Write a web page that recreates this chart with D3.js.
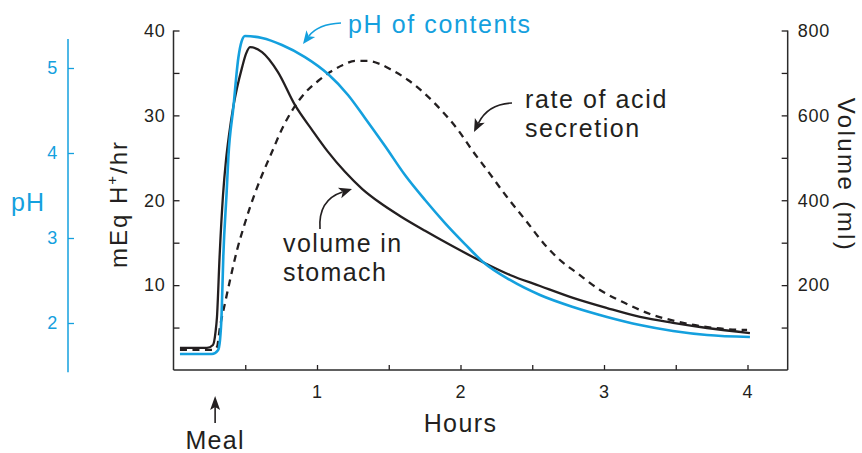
<!DOCTYPE html>
<html>
<head>
<meta charset="utf-8">
<script src="https://cdn.jsdelivr.net/npm/d3@7"></script>
<style>
  html, body { margin: 0; padding: 0; background: #fff; }
  svg { display: block; font-family: "Liberation Sans", Arial, Helvetica, sans-serif; }
</style>
</head>
<body>
<svg id="chart" width="862" height="453"></svg>
<script>
// Gastric response to a meal: hours after start of recording
const volumeHours = [0.045, 0.233, 0.275, 0.293, 0.303, 0.321, 0.345, 0.366, 0.387, 0.415, 0.443, 0.477, 0.505, 0.533, 0.617, 0.728, 0.847, 0.965, 1.077, 1.195, 1.314, 1.439, 1.578, 1.753, 1.927, 2.157, 2.345, 2.554, 2.784, 3.021, 3.251, 3.481, 3.718, 4.017];
// volume in stomach (ml)
const volumeMl = [52, 52, 59, 90, 125, 266, 412, 495, 554, 617, 665, 712, 745, 761, 749, 702, 624, 566, 514, 467, 427, 394, 363, 328, 295, 254, 224, 198, 170, 146, 125, 111, 99, 87];

const phHours = [0.045, 0.268, 0.310, 0.324, 0.3345, 0.347, 0.371, 0.382, 0.417, 0.452, 0.474, 0.498, 0.617, 0.756, 0.916, 1.077, 1.216, 1.334, 1.474, 1.613, 1.753, 1.892, 2.031, 2.157, 2.345, 2.554, 2.784, 3.021, 3.251, 3.481, 3.718, 4.017];
// pH of contents
const phValues = [1.635, 1.635, 1.68, 1.80, 2.07, 2.78, 3.56, 3.94, 4.53, 5.12, 5.31, 5.376, 5.353, 5.271, 5.129, 4.929, 4.682, 4.412, 4.082, 3.741, 3.447, 3.176, 2.929, 2.718, 2.506, 2.329, 2.188, 2.071, 1.976, 1.906, 1.859, 1.835];

const acidHours = [0.045, 0.275, 0.303, 0.324, 0.359, 0.394, 0.443, 0.498, 0.568, 0.617, 0.686, 0.756, 0.833, 0.916, 1.007, 1.091, 1.181, 1.265, 1.355, 1.439, 1.509, 1.634, 1.753, 1.871, 1.983, 2.080, 2.185, 2.324, 2.463, 2.589, 2.693, 2.812, 2.972, 3.146, 3.321, 3.495, 3.669, 3.843, 3.997];
// rate of acid secretion (mEq H+/hr)
const acidRate = [2.36, 2.36, 2.71, 5.07, 7.89, 10.60, 14.14, 17.32, 20.85, 22.97, 25.68, 28.40, 30.75, 32.64, 34.05, 35.11, 35.94, 36.41, 36.41, 36.05, 35.46, 34.17, 32.52, 30.52, 28.28, 25.92, 23.56, 20.38, 17.44, 14.73, 12.96, 11.43, 9.43, 7.89, 6.60, 5.77, 5.18, 4.83, 4.71];

// axis ticks and labels
const hourTicks = [0.5, 1, 1.5, 2, 2.5, 3, 3.5, 4];
const hourLabels = [1, 2, 3, 4];
const acidTicks = [5, 10, 15, 20, 25, 30, 35, 40];
const acidLabels = [10, 20, 30, 40];
const volumeTicks = [100, 200, 300, 400, 500, 600, 700, 800];
const volumeLabels = [200, 400, 600, 800];
const phTicks = [2, 3, 4, 5];
const mealTime = 0.29;

const ink = "#231f20";
const axisInk = "#2b2b2b";
const blue = "#14a0de";
const font = '"Liberation Sans", Arial, Helvetica, sans-serif';

const svg = d3.select("#chart");

const x = d3.scaleLinear().domain([0, 4]).range([173.5, 747.5]);
const yAcid = d3.scaleLinear().domain([0, 40]).range([370, 30.5]);
const yVol = d3.scaleLinear().domain([0, 800]).range([370, 30.5]);
const yPh = d3.scaleLinear().domain([2, 5]).range([323, 68]);

const hourEnd = 4.28;
const phRange = [1.42, 5.34];

function styleAxis(g, color, size) {
  g.attr("font-family", font).attr("font-size", size);
  g.select(".domain").remove();
  g.selectAll(".tick line").attr("stroke", color).attr("stroke-width", 1.3);
  g.selectAll(".tick text").attr("fill", color).style("letter-spacing", "0.8px");
}

// bottom axis (hours)
svg.append("g")
  .attr("transform", `translate(0,${yAcid(0)})`)
  .call(d3.axisBottom(x).tickValues(hourTicks)
    .tickFormat(d => hourLabels.includes(d) ? d : "")
    .tickSizeInner(-5).tickSizeOuter(0).tickPadding(15))
  .call(g => styleAxis(g, ink, 18));

// left axis (acid secretion)
svg.append("g")
  .attr("transform", `translate(${x(0)},0)`)
  .call(d3.axisLeft(yAcid).tickValues(acidTicks)
    .tickFormat(d => acidLabels.includes(d) ? d : "")
    .tickSizeInner(-6).tickSizeOuter(0).tickPadding(8))
  .call(g => styleAxis(g, ink, 18));

// right axis (volume)
svg.append("g")
  .attr("transform", `translate(${x(hourEnd)},0)`)
  .call(d3.axisRight(yVol).tickValues(volumeTicks)
    .tickFormat(d => volumeLabels.includes(d) ? d : "")
    .tickSizeInner(-6).tickSizeOuter(0).tickPadding(10))
  .call(g => styleAxis(g, ink, 18));

// separate pH axis
const phX = 68;
svg.append("g")
  .attr("transform", `translate(${phX},0)`)
  .call(d3.axisLeft(yPh).tickValues(phTicks).tickFormat(d3.format("d"))
    .tickSizeInner(-6).tickSizeOuter(0).tickPadding(10))
  .call(g => styleAxis(g, blue, 18));

// axis spines
const spines = svg.append("g").attr("stroke-width", 1.5).attr("fill", "none");
spines.append("line").attr("stroke", axisInk)
  .attr("x1", x(0)).attr("x2", x(hourEnd)).attr("y1", yAcid(0)).attr("y2", yAcid(0));
spines.append("line").attr("stroke", axisInk)
  .attr("x1", x(0)).attr("x2", x(0)).attr("y1", yAcid(0)).attr("y2", yAcid(40));
spines.append("line").attr("stroke", axisInk)
  .attr("x1", x(hourEnd)).attr("x2", x(hourEnd)).attr("y1", yAcid(0)).attr("y2", yVol(800));
spines.append("line").attr("stroke", blue)
  .attr("x1", phX).attr("x2", phX).attr("y1", yPh(phRange[0])).attr("y2", yPh(phRange[1]));

// curves
function trace(xs, ys, yScale) {
  return d3.line()
    .x((d, i) => x(xs[i]))
    .y((d, i) => yScale(ys[i]))
    .curve(d3.curveMonotoneX)(xs);
}

svg.append("path")
  .attr("d", trace(acidHours, acidRate, yAcid))
  .attr("fill", "none").attr("stroke", ink).attr("stroke-width", 2.3)
  .attr("stroke-dasharray", "7,5.5");

svg.append("path")
  .attr("d", trace(volumeHours, volumeMl, yVol))
  .attr("fill", "none").attr("stroke", ink).attr("stroke-width", 2.3)
  .attr("stroke-linejoin", "round");

svg.append("path")
  .attr("d", trace(phHours, phValues, yPh))
  .attr("fill", "none").attr("stroke", blue).attr("stroke-width", 2.6)
  .attr("stroke-linejoin", "round");

// annotation arrows: quadratic stroke with a filled head at the tip
function arrow(s, c, t, color, headLen = 13, headHalf = 5.5) {
  const dx = t[0] - c[0], dy = t[1] - c[1];
  const len = Math.hypot(dx, dy);
  const ux = dx / len, uy = dy / len;
  const bx = t[0] - ux * headLen, by = t[1] - uy * headLen;
  const endX = t[0] - ux * (headLen - 3), endY = t[1] - uy * (headLen - 3);
  svg.append("path")
    .attr("d", `M${s[0]},${s[1]} Q${c[0]},${c[1]} ${endX},${endY}`)
    .attr("fill", "none").attr("stroke", color).attr("stroke-width", 1.6);
  const nx = -uy, ny = ux;
  const notchX = t[0] - ux * headLen * 0.75, notchY = t[1] - uy * headLen * 0.75;
  svg.append("path")
    .attr("d", `M${t[0]},${t[1]} L${bx + nx * headHalf},${by + ny * headHalf} L${notchX},${notchY} L${bx - nx * headHalf},${by - ny * headHalf} Z`)
    .attr("fill", color);
}

function label(txt, px, py, color, opts = {}) {
  return svg.append("text")
    .attr("x", px).attr("y", py)
    .attr("fill", color)
    .attr("font-family", font)
    .attr("font-size", opts.size || 25)
    .attr("text-anchor", opts.anchor || "start")
    .style("letter-spacing", (opts.spacing ?? 1.4) + "px")
    .text(txt);
}

// curve labels
label("pH of contents", 348, 33, blue, { spacing: 1.6 });
arrow([341, 23], [318, 24], [303, 44], blue);

label("rate of acid", 525, 108, ink, { spacing: 1.6 });
label("secretion", 525, 137, ink, { spacing: 1.6 });
arrow([512, 103], [488, 104], [474, 132], ink);

label("volume in", 283, 252, ink, { spacing: 1.4 });
label("stomach", 283, 281, ink, { spacing: 1.4 });
arrow([320, 229], [318, 200], [352, 189], ink);

// meal marker
const mealX = x(mealTime);
svg.append("line")
  .attr("x1", mealX).attr("x2", mealX).attr("y1", 423).attr("y2", 406)
  .attr("stroke", ink).attr("stroke-width", 1.6);
svg.append("path")
  .attr("d", `M${mealX},396 L${mealX - 5},410 L${mealX},407 L${mealX + 5},410 Z`)
  .attr("fill", ink);
label("Meal", mealX, 449, ink, { anchor: "middle", spacing: 1.3 });

// axis titles
label("Hours", x(2), 432, ink, { anchor: "middle", spacing: 1.4 });
label("pH", 11, 211, blue, { size: 25, spacing: 1 });

const acidTitle = svg.append("text")
  .attr("transform", "translate(127,204) rotate(-90)")
  .attr("text-anchor", "middle")
  .attr("font-family", font).attr("font-size", 24).attr("fill", ink)
  .style("letter-spacing", "2px");
acidTitle.append("tspan").text("mEq H");
acidTitle.append("tspan").attr("font-size", 15).attr("dy", -10).text("+");
acidTitle.append("tspan").attr("dy", 10).text("/hr");

svg.append("text")
  .attr("transform", "translate(838,175) rotate(90)")
  .attr("text-anchor", "middle")
  .attr("font-family", font).attr("font-size", 24).attr("fill", ink)
  .style("letter-spacing", "2.4px")
  .text("Volume (ml)");
</script>
</body>
</html>
